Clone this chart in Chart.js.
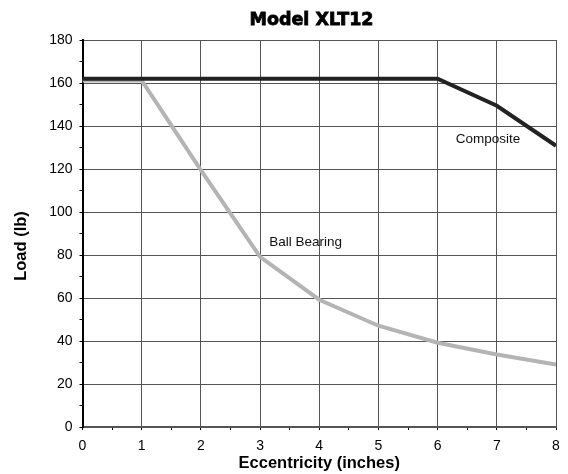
<!DOCTYPE html>
<html>
<head>
<meta charset="utf-8">
<script src="https://cdn.jsdelivr.net/npm/chart.js@4.4.1/dist/chart.umd.min.js"></script>
<style>
  html, body { margin: 0; padding: 0; background: #fff; }
  #wrap { width: 568px; height: 474px; }
</style>
</head>
<body>
<div id="wrap"><canvas id="chart" width="568" height="474"></canvas></div>
<script>
// Chart data
const eccentricity = [0, 1, 2, 3, 4, 5, 6, 7, 8];
const compositeLoad = [162, 162, 162, 162, 162, 162, 162, 149.4, 130.8];
const ballBearingLoad = [161.2, 161.2, 119.5, 79.1, 59.2, 47.1, 39.2, 33.7, 29];
const seriesNames = ["Composite", "Ball Bearing"];
// where the in-chart labels sit (data units)
const labelSpots = [
  { text: "Composite", x: 6.85, y: 133.6 },
  { text: "Ball Bearing", x: 3.77, y: 85.9 }
];
const chartTitle = "Model XLT12";
const yTitle = "Load (lb)";

const FONT = "'Liberation Sans', Arial, sans-serif";

// Build point lists from the arrays
function toPoints(values) {
  return eccentricity.map(function (x, i) {
    return { x: x, y: values[i] };
  });
}

// Draw the title, the y title and the text labels next to the lines
const lineLabels = {
  id: "lineLabels",
  afterDatasetsDraw: function (chart) {
    const ctx = chart.ctx;
    const xs = chart.scales.x;
    const ys = chart.scales.y;
    ctx.save();
    ctx.font = "13.5px " + FONT;
    ctx.fillStyle = "#111";
    ctx.textAlign = "center";
    ctx.textBaseline = "middle";
    labelSpots.forEach(function (l) {
      ctx.fillText(l.text, xs.getPixelForValue(l.x), ys.getPixelForValue(l.y));
    });
    // main title, stroked a little to look heavier
    ctx.font = "bold 17.5px 'DejaVu Sans', sans-serif";
    ctx.fillStyle = "#000";
    ctx.strokeStyle = "#000";
    ctx.lineWidth = 0.8;
    ctx.fillText(chartTitle, 311.5, 20);
    ctx.strokeText(chartTitle, 311.5, 20);
    // y axis title, turned on its side
    ctx.translate(21.7, 246);
    ctx.rotate(-Math.PI / 2);
    ctx.font = "bold 16.5px " + FONT;
    ctx.fillText(yTitle, 0, 0);
    ctx.restore();
  }
};

const ctx = document.getElementById("chart").getContext("2d");
new Chart(ctx, {
  type: "line",
  data: {
    datasets: [
      {
        label: seriesNames[0],
        data: toPoints(compositeLoad),
        borderColor: "#222",
        borderWidth: 4,
        pointRadius: 0,
        tension: 0
      },
      {
        label: seriesNames[1],
        data: toPoints(ballBearingLoad),
        borderColor: "#b4b4b4",
        borderWidth: 4,
        pointRadius: 0,
        tension: 0
      }
    ]
  },
  options: {
    responsive: false,
    animation: false,
    layout: { padding: { left: 0, right: 12, top: 40, bottom: 0 } },
    plugins: {
      legend: { display: false },
      tooltip: { enabled: false },
      title: { display: false }
    },
    scales: {
      x: {
        type: "linear",
        min: 0,
        max: 8,
        afterFit: function (s) { s.height = 47; },
        border: { color: "#555", width: 2 },
        grid: {
          color: function (c) { return Number.isInteger(c.tick.value) ? "#555" : "rgba(0,0,0,0)"; },
          tickColor: "#000",
          tickLength: 3,
          lineWidth: 1
        },
        ticks: {
          stepSize: 0.5,
          color: "#000",
          font: { family: FONT, size: 14 },
          padding: 8,
          maxRotation: 0,
          autoSkip: false,
          callback: function (v) { return Number.isInteger(v) ? v : ""; }
        },
        title: {
          display: true,
          text: "Eccentricity (inches)",
          color: "#000",
          font: { family: FONT, size: 16.5, weight: "bold" },
          padding: { top: 0, bottom: 1 }
        }
      },
      y: {
        min: 0,
        max: 180,
        afterFit: function (s) { s.width = 82.5; },
        border: { color: "#000", width: 2 },
        grid: {
          color: function (c) { return c.tick.value % 20 === 0 ? "#555" : "rgba(0,0,0,0)"; },
          tickColor: "#000",
          tickLength: 3,
          lineWidth: 1
        },
        ticks: {
          stepSize: 10,
          color: "#000",
          font: { family: FONT, size: 14 },
          padding: 7,
          autoSkip: false,
          callback: function (v) { return v % 20 === 0 ? v : ""; }
        }
      }
    }
  },
  plugins: [lineLabels]
});
</script>
</body>
</html>
